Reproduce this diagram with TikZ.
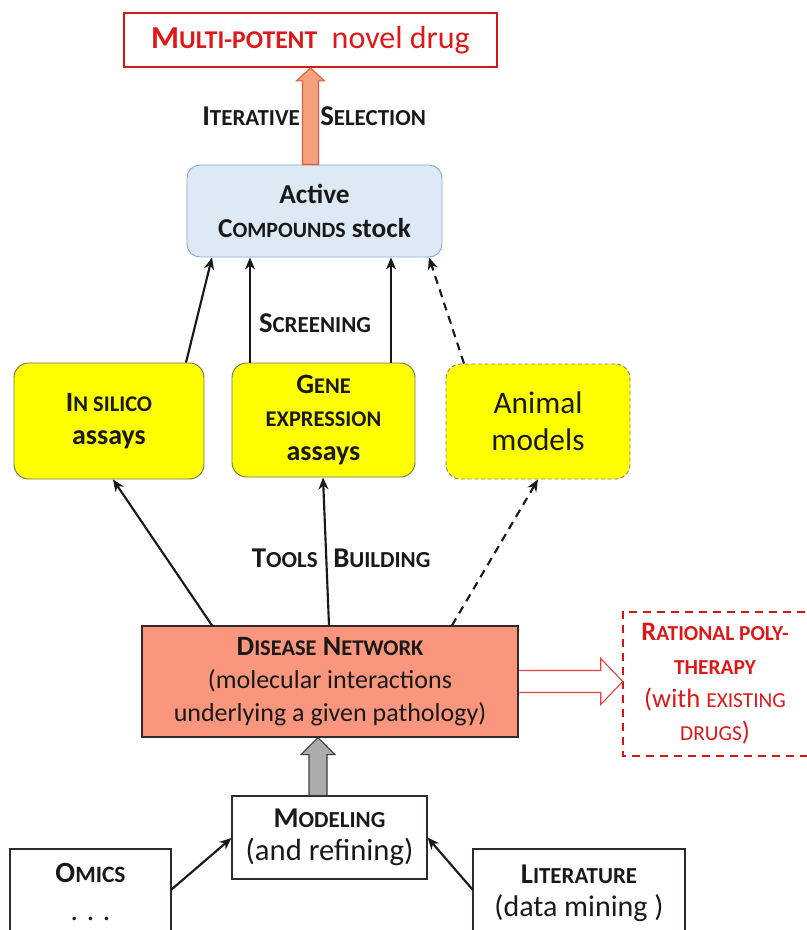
\documentclass[tikz,border=0pt]{standalone}
\usepackage{fontspec}
\setmainfont{Carlito}
\usetikzlibrary{arrows.meta,calc}
\newcommand\smc[1]{\scalebox{0.8}{#1}}
\definecolor{txtred}{RGB}{222,24,24}
\definecolor{boxred}{RGB}{212,22,22}
\definecolor{oafill}{RGB}{244,162,124}
\definecolor{oadraw}{RGB}{226,88,66}
\definecolor{actfill}{RGB}{221,234,246}
\definecolor{actdraw}{RGB}{130,170,210}
\definecolor{yfill}{RGB}{255,255,0}
\definecolor{ydraw}{RGB}{110,118,84}
\definecolor{disfill}{RGB}{250,150,125}
\definecolor{disdraw}{RGB}{50,40,40}
\definecolor{gafill}{RGB}{172,172,172}
\definecolor{gadraw}{RGB}{60,60,60}
\definecolor{harrow}{RGB}{228,64,64}
\definecolor{ink}{RGB}{25,25,25}
\begin{document}
\begin{tikzpicture}[x=0.75pt,y=-0.75pt,
  every node/.style={text=ink, align=center, inner sep=0pt},
  box/.style={draw=disdraw, line width=0.8pt},
  ybox/.style={fill=yfill, draw=ydraw, line width=0.7pt, rounded corners=11pt},
  lbl/.style={font=\fontsize{21.5}{26}\selectfont\bfseries},
  conn/.style={ink, line width=1.6pt, -{Stealth[length=9pt,width=7.5pt]}},
  dconn/.style={conn, dash pattern=on 6pt off 4.5pt},
  oarr/.style={fill=oafill, draw=oadraw, line width=0.8pt, line join=miter},
  garr/.style={fill=gafill, draw=gadraw, line width=0.8pt},
  harr/.style={fill=white, draw=harrow, line width=0.8pt}]
\useasboundingbox (0,0) rectangle (806,930);

% nodes
\node[draw=boxred, line width=1.3pt, minimum width=279.75pt, minimum height=40.5pt,
      text=txtred, font=\fontsize{24}{28}\selectfont] (top) at (310.5,40)
      {{\bfseries M\smc{ULTI-POTENT}}\ \ novel drug};
\node[fill=actfill, draw=actdraw, line width=0.7pt, rounded corners=9.75pt,
      minimum width=191.25pt, minimum height=69pt, font=\fontsize{20.5}{25}\selectfont\bfseries] (act) at (314.5,211)
      {Active\\C\smc{OMPOUNDS} stock};
\node[ybox, minimum width=142.5pt, minimum height=87pt, font=\fontsize{21}{25}\selectfont\bfseries] (ins) at (109,421)
      {I\smc{N SILICO}\\assays};
\node[ybox, minimum width=137.25pt, minimum height=85.5pt, font=\fontsize{21}{25}\selectfont\bfseries] (gen) at (323.5,420)
      {G\smc{ENE}\\\smc{EXPRESSION}\\assays};
\node[ybox, dash pattern=on 3pt off 2pt, draw=gray, minimum width=138pt, minimum height=86.25pt,
      font=\fontsize{23.5}{28}\selectfont] (ani) at (538,421.5)
      {Animal\\models};
\node[fill=disfill, draw=disdraw, line width=0.9pt, minimum width=282pt, minimum height=83.25pt,
      font=\fontsize{19.5}{25}\selectfont] (dis) at (330,681.5)
      {{\fontsize{21}{25}\selectfont\bfseries D\smc{ISEASE} N\smc{ETWORK}}\\(molecular interactions\\underlying a given pathology)};
\node[minimum width=138pt, minimum height=108pt, text=txtred, font=\fontsize{20}{25}\selectfont] (rat) at (715,684)
      {\textbf{R\smc{ATIONAL POLY-}}\\\textbf{\smc{THERAPY}}\\(with \smc{EXISTING}\\\smc{DRUGS})};
\node[box, minimum width=146.25pt, minimum height=62.25pt, font=\fontsize{23}{25}\selectfont] (mod) at (329.5,837.5)
      {{\fontsize{21.5}{25}\selectfont\bfseries M\smc{ODELING}}\\(and refining)};
\node[box, minimum width=120.75pt, minimum height=64.5pt, font=\fontsize{22}{28}\selectfont] (omi) at (90.5,892)
      {\textbf{O\smc{MICS}}\\. . .};
\node[box, minimum width=159pt, minimum height=66pt, font=\fontsize{22.5}{25}\selectfont] (lit) at (579,893)
      {{\fontsize{21.5}{25}\selectfont\bfseries L\smc{ITERATURE}}\\(data mining )};

% rational border (right side cut by the page)
\draw[boxred, line width=1.5pt, dash pattern=on 6pt off 4.5pt]
  ($(rat.north east)+(12,0)$) -- (rat.north west) -- (rat.south west) -- ($(rat.south east)+(12,0)$);

% labels
\node[lbl, anchor=base east] (it1) at (300,126) {I\smc{TERATIVE}};
\node[lbl, anchor=base west] (it2) at (320,126) {S\smc{ELECTION}};
\node[lbl] (scr) at (315,323) {S\smc{CREENING}};
\node[lbl, anchor=base east] (tb1) at (318,567) {T\smc{OOLS}};
\node[lbl, anchor=base west] (tb2) at (333,567) {B\smc{UILDING}};

% block arrows
\draw[oarr] (top.south) -- ++(14,13) -- ++(-6,0) -- ($(top.south |- act.north)+(8,0)$)
  -- ++(-16,0) -- ($(top.south)+(-8,13)$) -- ++(-6,0) -- cycle;
\draw[garr] ($(dis.south)+(-12,0)$) coordinate (gt) -- ++(17,17) -- ++(-8,0)
  -- ($(gt |- mod.north)+(9,0)$) -- ++(-18,0) -- ($(gt)+(-9,17)$) -- ++(-8,0) -- cycle;
\draw[harr] ($(dis.east)+(0.8,-11)$) -- ($(rat.west |- dis.east)+(-22,-11)$) -- ++(0,-12)
  -- (rat.west |- dis.east) -- ++(-22,23) -- ++(0,-12) -- ($(dis.east)+(0.8,11)$);

% connectors to active compounds
\draw[conn] ($(ins.north)+(77,0)$) -- ($(act.south)+(-102.5,0)$);
\draw[conn] ($(gen.north)+(-73.5,0)$) -- ($(act.south)+(-64.5,0)$);
\draw[conn] ($(gen.north)+(67.5,0)$) -- ($(act.south)+(76.5,0)$);
\draw[dconn] ($(ani.north)+(-74,0)$) -- ($(act.south)+(114.5,0)$);

% connectors from disease network
\draw[conn] ($(dis.north)+(-118,0)$) -- ($(ins.south)+(4,0)$);
\draw[conn] ($(dis.north)+(-1,0)$) -- ($(gen.south)+(-0.5,0)$);
\draw[dconn] ($(dis.north)+(122,0)$) -- (ani.south);

% connectors to modeling
\draw[conn] ($(omi.north east)+(0,41)$) -- ($(mod.west)+(0,0.5)$);
\draw[conn] ($(lit.north west)+(0,41)$) -- (mod.east);
\end{tikzpicture}
\end{document}
